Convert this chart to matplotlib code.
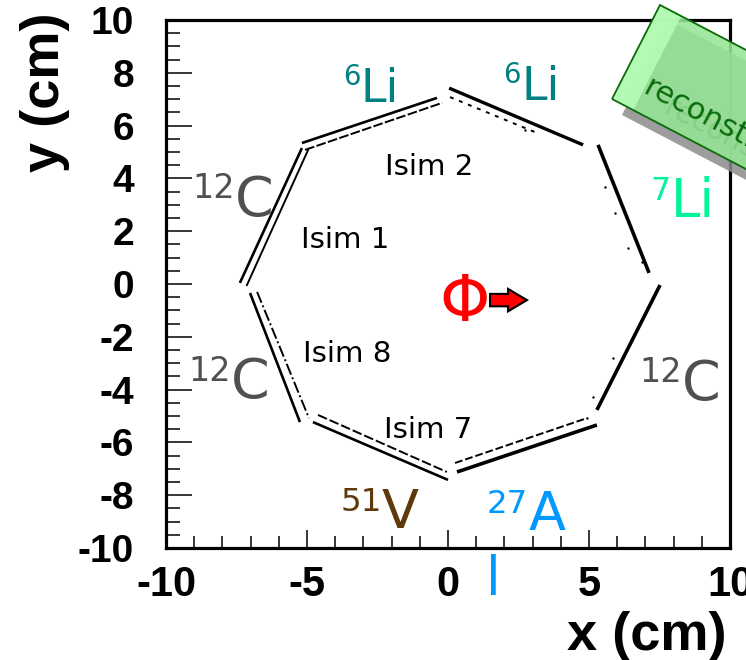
import matplotlib
matplotlib.use("Agg")
import matplotlib.pyplot as plt
import matplotlib.patches as mpatches
from matplotlib.ticker import MultipleLocator
import numpy as np

# Detector faces of the octagon: reconstructed hit bands (cm)
outer_start = [(-7.38, 0.04), (-5.18, 5.34), (0.04, 7.42), (5.32, 5.27),
               (7.52, -0.04), (5.28, -5.34), (0.00, -7.42), (-5.25, -5.23)]
outer_end = [(-5.18, 5.15), (-0.39, 7.05), (4.79, 5.27), (7.13, 0.42),
             (5.28, -4.77), (0.32, -7.12), (-4.79, -5.23), (-7.02, -0.34)]
outer_width = [1.9, 1.9, 2.4, 2.6, 2.6, 2.6, 1.9, 1.9]

inner_start = [(-7.13, -0.04), (-5.07, 5.08), (0.07, 7.08),
               (0.25, -6.78), (-4.61, -4.96), (-6.77, -0.30)]
inner_end = [(-4.96, 5.08), (-0.21, 6.86), (3.16, 5.72),
             (4.93, -5.08), (-0.04, -7.12), (-4.93, -5.08)]
inner_dash = [None, (5, 1.2), (2, 3), (4, 1.5), (5, 1.5), (6, 1.5, 1, 1.5)]

stray_x = [5.57, 5.92, 6.38, 6.88, 5.85, 5.14, 4.93, 2.73]
stray_y = [3.67, 2.69, 1.36, 0.83, -2.80, -4.28, -5.08, 5.83]

# Target isotopes: (x, baseline y, mass number, symbol, colour, size)
isotopes = [
    (-3.09, 6.89, "6", "Li", "#008080", 33),
    (2.59, 6.97, "6", "Li", "#008080", 33),
    (7.91, 2.54, "7", "Li", "#00f59a", 38),
    (-7.55, 2.58, "12", "C", "#505050", 40),
    (-7.70, -4.32, "12", "C", "#505050", 40),
    (8.30, -4.39, "12", "C", "#505050", 40),
    (-2.34, -9.24, "51", "V", "#5e3a0b", 39),
    (2.84, -9.32, "27", "A", "#0099ff", 39),
]

isim_names = ["Isim 2", "Isim 1", "Isim 8", "Isim 7"]
isim_x = [-0.67, -3.65, -3.58, -0.71]
isim_y = [4.43, 1.67, -2.65, -5.53]

W, H = 746, 660
fig = plt.figure(figsize=(W / 100, H / 100), dpi=100)
ax = fig.add_axes([166 / W, 1 - 548 / H, 564 / W, 528 / H])
ax.set_xlim(-10, 10)
ax.set_ylim(-10, 10)

for (x0, y0), (x1, y1), lw in zip(outer_start, outer_end, outer_width):
    ax.plot([x0, x1], [y0, y1], color="black", lw=lw, solid_capstyle="butt")
for (x0, y0), (x1, y1), dash in zip(inner_start, inner_end, inner_dash):
    ln, = ax.plot([x0, x1], [y0, y1], color="black", lw=1.4)
    if dash is not None:
        ln.set_dashes(dash)
ax.scatter(stray_x, stray_y, s=3, color="black", lw=0)

for x, y, mass, sym, col, size in isotopes:
    sup = size * 0.6
    ax.text(x, y + 0.66, mass, ha="right", va="baseline", fontsize=sup,
            color=col, family="DejaVu Sans")
    ax.text(x, y, sym, ha="left", va="baseline", fontsize=size,
            color=col, family="DejaVu Sans")

ax.text(1.6, -11.78, "l", ha="center", va="baseline", fontsize=38,
        color="#0099ff", family="DejaVu Sans", clip_on=False)

for name, x, y in zip(isim_names, isim_x, isim_y):
    ax.text(x, y, name, ha="center", va="center", fontsize=21,
            color="black", family="DejaVu Sans")

ax.text(0.6, -0.72, "Φ", ha="center", va="center", fontsize=46,
        color="red", family="DejaVu Sans")
ax.add_patch(mpatches.FancyArrow(1.49, -0.61, 1.31, 0, width=0.47,
                                 head_width=0.85, head_length=0.67,
                                 length_includes_head=True,
                                 fc="red", ec="black", lw=1.5, zorder=5))

# Axis styling
for sp in ax.spines.values():
    sp.set_linewidth(2.3)
ax.xaxis.set_major_locator(MultipleLocator(5))
ax.xaxis.set_minor_locator(MultipleLocator(1))
ax.yaxis.set_major_locator(MultipleLocator(2))
ax.yaxis.set_minor_locator(MultipleLocator(0.5))
ax.tick_params(axis="x", which="major", direction="in", length=13, width=1.1,
               pad=12, labelsize=30)
ax.tick_params(axis="x", which="minor", direction="in", length=8.5, width=1.1)
ax.tick_params(axis="y", which="major", direction="in", length=19, width=1.1,
               pad=23, labelsize=28)
ax.tick_params(axis="y", which="minor", direction="in", length=10, width=1.1)
ax.set_xticks([-10, -5, 0, 5, 10])
ax.set_xticklabels(["-10", "-5", "0", "5", "10"])
ax.set_yticks(np.arange(-10, 11, 2))
ax.set_yticklabels([str(v) for v in range(-10, 11, 2)])
for lab in ax.get_xticklabels() + ax.get_yticklabels():
    lab.set_family("Liberation Sans")
    lab.set_fontweight("bold")

fig.text(647 / W, 1 - 636 / H, "x (cm)", ha="center", va="center",
         fontsize=39, fontweight="bold", family="Liberation Sans")
fig.text(45 / W, 1 - 92 / H, "y (cm)", ha="center", va="center",
         rotation=90, fontsize=39, fontweight="bold", family="Liberation Sans")

# Tilted "reconstructed" tag in the top-right corner (pixel geometry)
ang = np.deg2rad(27.6)
u = np.array([np.cos(ang), np.sin(ang)])
corner_l = np.array([612.0, 99.0])
corner_t = np.array([660.0, 5.0])


def band(offset, start=0.0, length=420.0):
    a = corner_l + start * u
    b = corner_t + start * u
    pts = [a, b, b + length * u, a + length * u]
    return [((p[0] + offset[0]) / W, 1 - (p[1] + offset[1]) / H) for p in pts]


shadow = mpatches.Polygon(band((10, 16)), closed=True, fc="#8c8c8c", ec="none",
                          alpha=0.85, transform=fig.transFigure, zorder=10)
body = mpatches.Polygon(band((0, 0)), closed=True, fc="#96e696", ec="none",
                        alpha=0.88, transform=fig.transFigure, zorder=11)
strip = mpatches.Polygon(band((0, 0), 0, 24), closed=True, fc="#b6fbb6",
                         ec="none", alpha=0.9, transform=fig.transFigure,
                         zorder=12)
edge = mpatches.Polygon(band((0, 0)), closed=True, fc="none", ec="#0a6b0a",
                        lw=1.3, transform=fig.transFigure, zorder=13)
for p in (shadow, body, strip, edge):
    fig.add_artist(p)
fig.text((641 + 20) / W, 1 - (93 + 20) / H, "reconstructed", rotation=-27.6,
         rotation_mode="anchor", ha="left", va="baseline", fontsize=22,
         color="#84d084", family="DejaVu Sans", zorder=13)
fig.text(641 / W, 1 - 93 / H, "reconstructed", rotation=-27.6,
         rotation_mode="anchor", ha="left", va="baseline", fontsize=22,
         color="#0a6b0a", family="DejaVu Sans", zorder=14)

fig.savefig("out.png", dpi=100)
